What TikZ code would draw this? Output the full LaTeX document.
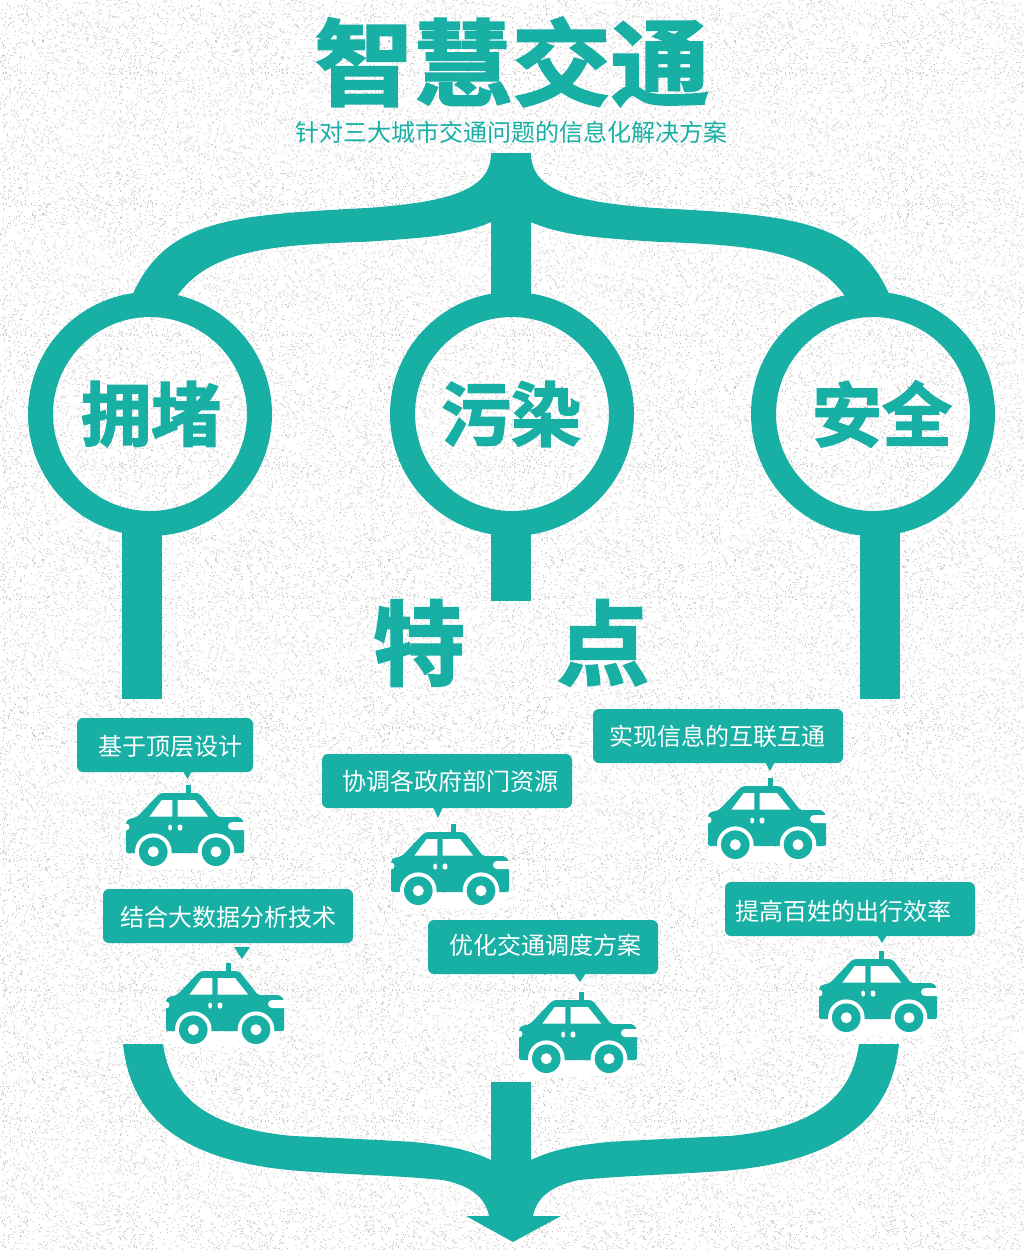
\documentclass[tikz,border=0pt]{standalone}
\usepackage{fontspec}
\usetikzlibrary{positioning,patterns}
\newfontfamily\cjk{Noto Sans CJK SC}
\newfontfamily\cjkheavy[FakeBold=2.2]{Noto Sans CJK SC Bold}
\newfontfamily\cjktitle[FakeBold=2.2,FakeStretch=1.05]{Noto Sans CJK SC Bold}
\definecolor{roadteal}{HTML}{18AFA5}
\pgfdeclarepatternformonly{speckle}{\pgfpointorigin}{\pgfqpoint{131pt}{131pt}}{\pgfqpoint{131pt}{131pt}}{
\pgfmathsetseed{11}
\foreach \i in {1,...,700}{
\pgfmathrandominteger{\px}{0}{130}
\pgfmathrandominteger{\py}{0}{130}
\pgfpathrectangle{\pgfqpoint{\px pt}{\py pt}}{\pgfqpoint{1pt}{1pt}}
\pgfusepath{fill}
}
}
\pgfdeclarepatternformonly{speckletwo}{\pgfpointorigin}{\pgfqpoint{173pt}{173pt}}{\pgfqpoint{173pt}{173pt}}{
\pgfmathsetseed{29}
\foreach \i in {1,...,1100}{
\pgfmathrandominteger{\px}{0}{172}
\pgfmathrandominteger{\py}{0}{172}
\pgfpathrectangle{\pgfqpoint{\px pt}{\py pt}}{\pgfqpoint{1pt}{1pt}}
\pgfusepath{fill}
}
}
\tikzset{
  road/.style = {fill = roadteal, draw = none},
  bubble/.style = {fill = roadteal, shape = rectangle, rounded corners = 6pt, minimum height = 54pt, inner sep = 0pt},
  bubbletext/.style = {text = white, font = \cjk\fontsize{24}{24}\selectfont, inner sep = 0pt},
  ring/.style = {draw = roadteal, line width = 25pt, circle, minimum size = 219pt, inner sep = 0pt},
  bigtext/.style = {text = roadteal, font = \cjkheavy\fontsize{70}{70}\selectfont, inner sep = 0pt},
  pics/taxi/.style = {code = {
    \fill[roadteal] (60,0) rectangle (65,9);
    \fill[roadteal, rounded corners = 2pt] (0,68) -- (0,36) -- (3,34) -- (11,32) -- (33,9) -- (36,8) -- (71,8) -- (74,9) -- (92,32) -- (114,32) -- (118,37) -- (118,68) -- cycle;
    \fill[white] (23.3,31.7) -- (35.7,15) -- (46.3,15) -- (46.3,31.7) -- cycle;
    \fill[white] (51.7,15) -- (69,15) -- (82.3,31.7) -- (51.7,31.7) -- cycle;
    \fill[white, rounded corners = 2pt] (42.3,39.5) rectangle (45.9,45.5);
    \fill[white, rounded corners = 2pt] (51.7,39.5) rectangle (56.3,45.5);
    \fill[white, rounded corners = 4pt] (102,37) rectangle (124,45);
    \fill[white] (0,42) circle (3.5pt);
    \fill[white] (27.3,66.7) circle (18.3pt) (90,66.7) circle (18.3pt);
    \fill[white] (5,68.7) rectangle (112,84);
    \fill[roadteal] (27.3,66.7) circle (14.3pt) (90,66.7) circle (14.3pt);
    \fill[white] (27.3,66.7) circle (5.5pt) (90,66.7) circle (5.5pt);
  }}
}
\begin{document}
\begin{tikzpicture}[x = 1pt, y = -1pt]
\useasboundingbox (0,0) rectangle (1024,1250);
\fill[white] (0,0) rectangle (1024,1250);
\fill[pattern = speckle, pattern color = gray!42] (0,0) rectangle (1024,1250);
\fill[pattern = speckletwo, pattern color = gray!42] (0,0) rectangle (1024,1250);

\node[text = roadteal, font = \cjktitle\fontsize{94}{94}\selectfont, inner sep = 0pt] (title) at (512,62) {智慧交通};
\node[text = roadteal, font = \cjk\fontsize{24}{24}\selectfont, inner sep = 0pt] (subtitle) at (511,132) {针对三大城市交通问题的信息化解决方案};

\path[road] (491,153) -- (531,153) .. controls (531,190) and (572,202) .. (655,208) .. controls (792,215) and (857,220) .. (890,296) -- (845,296) .. controls (812,250) and (752,245) .. (655,241.7) .. controls (602,238) and (562,236) .. (531,222) -- (531,300) -- (491,300) -- (491,222) .. controls (460,236) and (420,238) .. (367,241.7) .. controls (270,245) and (210,250) .. (177,296) -- (132,296) .. controls (165,220) and (230,215) .. (367,208) .. controls (450,202) and (491,190) .. (491,153) -- cycle;

\fill[road] (122,525) rectangle (162,699);
\fill[road] (491,525) rectangle (531,601);
\fill[road] (860,525) rectangle (900,699);

\node[ring] (jam) at (150,414) {};
\node[ring] (smog) at (512,414) {};
\node[ring] (safe) at (873,414) {};
\node[bigtext] at (151,414) {拥堵};
\node[bigtext] at (511,414) {污染};
\node[bigtext] at (882,414) {安全};
\node[text = roadteal, font = \cjkheavy\fontsize{92}{92}\selectfont, inner sep = 0pt] (feature) at (511,643) {特　点};

\node[bubble, minimum width = 176pt] (b1) at (165,745) {};
\node[bubbletext, xshift = 5pt, yshift = -1pt] at (b1) {基于顶层设计};
\node[bubble, minimum width = 250pt] (b2) at (447,781) {};
\node[bubbletext, xshift = 3pt] at (b2) {协调各政府部门资源};
\node[bubble, minimum width = 250pt] (b3) at (718,736) {};
\node[bubbletext, xshift = -1pt] at (b3) {实现信息的互联互通};
\node[bubble, minimum width = 250pt] (b4) at (228,916) {};
\node[bubbletext, yshift = -1pt] at (b4) {结合大数据分析技术};
\node[bubble, minimum width = 230pt] (b5) at (543,947) {};
\node[bubbletext, xshift = 2pt, yshift = 2pt] at (b5) {优化交通调度方案};
\node[bubble, minimum width = 250pt] (b6) at (850,909) {};
\node[bubbletext, xshift = -7pt, yshift = -2pt] at (b6) {提高百姓的出行效率};

\fill[road] (183,771) -- (192,771) -- (187.5,779) -- cycle;
\fill[road] (433,807) -- (443,807) -- (438,818) -- cycle;
\fill[road] (765,762) -- (775,762) -- (770,771) -- cycle;
\fill[road] (234,947) -- (250,947) -- (242,959) -- cycle;
\fill[road] (574,973) -- (586,973) -- (580,982) -- cycle;
\fill[road] (877,935) -- (887,935) -- (882,943) -- cycle;

\pic at (126,785) {taxi};
\pic at (391,824) {taxi};
\pic at (708,778) {taxi};
\pic at (166,963) {taxi};
\pic at (519,992) {taxi};
\pic at (819,951) {taxi};

\path[road] (491,1082) -- (531,1082) -- (531,1160) .. controls (552,1150) and (575,1145) .. (612,1141.7) .. controls (680,1138) and (729,1136) .. (729,1136) .. controls (817,1128) and (852,1095) .. (859,1044) -- (899,1044) .. controls (890,1130) and (822,1165) .. (712,1171.7) .. controls (660,1175) and (620,1176) .. (579,1180) .. controls (555,1185) and (537,1195) .. (533,1216) -- (561,1216) -- (513,1242) -- (466,1216) -- (489,1216) .. controls (485,1195) and (467,1185) .. (443,1180) .. controls (402,1176) and (362,1175) .. (310,1171.7) .. controls (200,1165) and (132,1130) .. (123,1044) -- (163,1044) .. controls (170,1095) and (205,1128) .. (293,1136) .. controls (293,1136) and (342,1138) .. (410,1141.7) .. controls (447,1145) and (470,1150) .. (491,1160) -- cycle;
\end{tikzpicture}
\end{document}
